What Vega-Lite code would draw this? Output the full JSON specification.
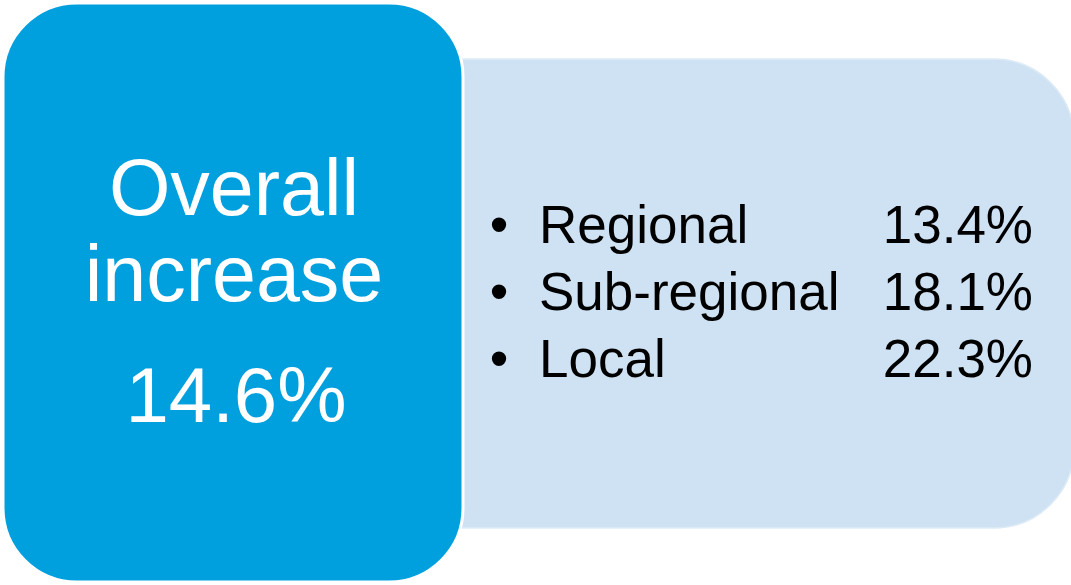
{
  "$schema": "https://vega.github.io/schema/vega-lite/v6.json",
  "width": 1071,
  "height": 585,
  "autosize": {"type": "fit", "contains": "padding"},
  "padding": 0,
  "background": "white",
  "config": {"view": {"stroke": null}, "text": {"font": "Liberation Sans"}},
  "datasets": {
    "overall": [{"metric": "Overall increase", "share": 0.146}],
    "breakdown": [
      {"level": "Regional", "share": 0.134},
      {"level": "Sub-regional", "share": 0.181},
      {"level": "Local", "share": 0.223}
    ]
  },
  "layer": [
    {
      "data": {"name": "overall"},
      "mark": {"type": "rect", "cornerRadiusTopRight": 80, "cornerRadiusBottomRight": 80, "cornerRadiusTopLeft": 0, "cornerRadiusBottomLeft": 0, "fill": "#CFE2F3", "stroke": "#DDEBF7", "strokeWidth": 1.5},
      "encoding": {
        "x": {"value": 460},
        "x2": {"value": 1074},
        "y": {"value": 59},
        "y2": {"value": 528}
      }
    },
    {
      "data": {"name": "overall"},
      "mark": {"type": "rect", "cornerRadius": 74, "fill": "#00A0DF", "stroke": "white", "strokeWidth": 3},
      "encoding": {
        "x": {"value": 3},
        "x2": {"value": 463},
        "y": {"value": 3},
        "y2": {"value": 582}
      }
    },
    {
      "data": {"name": "overall"},
      "mark": {"type": "text", "fontSize": 79, "color": "white", "align": "center", "baseline": "alphabetic", "lineBreak": " ", "lineHeight": 86},
      "encoding": {
        "x": {"value": 234},
        "y": {"value": 215},
        "text": {"field": "metric"}
      }
    },
    {
      "data": {"name": "overall"},
      "mark": {"type": "text", "fontSize": 78, "color": "white", "align": "center", "baseline": "alphabetic"},
      "encoding": {
        "x": {"value": 236},
        "y": {"value": 422},
        "text": {"field": "share", "format": ".1%"}
      }
    },
    {
      "data": {"name": "breakdown"},
      "mark": {"type": "text", "fontSize": 53, "color": "black", "align": "center", "baseline": "alphabetic"},
      "encoding": {
        "x": {"value": 499},
        "y": {"field": "level", "type": "nominal", "sort": null, "axis": null, "scale": {"type": "point", "domain": ["Regional", "Sub-regional", "Local"], "range": [243, 377], "padding": 0}},
        "text": {"value": "•"}
      }
    },
    {
      "data": {"name": "breakdown"},
      "mark": {"type": "text", "fontSize": 53, "color": "black", "align": "left", "baseline": "alphabetic"},
      "encoding": {
        "x": {"value": 539},
        "y": {"field": "level", "type": "nominal", "sort": null, "axis": null},
        "text": {"field": "level"}
      }
    },
    {
      "data": {"name": "breakdown"},
      "mark": {"type": "text", "fontSize": 53, "color": "black", "align": "right", "baseline": "alphabetic"},
      "encoding": {
        "x": {"value": 1033},
        "y": {"field": "level", "type": "nominal", "sort": null, "axis": null},
        "text": {"field": "share", "format": ".1%"}
      }
    }
  ]
}
